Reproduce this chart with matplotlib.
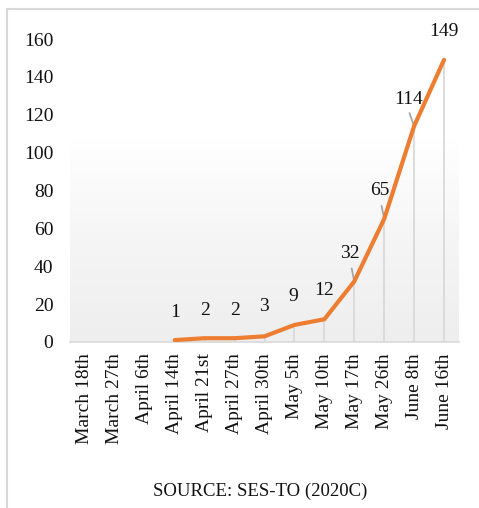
import numpy as np
import matplotlib.pyplot as plt
from matplotlib.patches import Rectangle
from matplotlib.colors import LinearSegmentedColormap

plt.rcParams['font.family'] = ['Liberation Serif', 'DejaVu Serif']

# dates and cumulative counts (first three dates have no value)
dates = ["March 18th", "March 27th", "April 6th", "April 14th", "April 21st",
         "April 27th", "April 30th", "May 5th", "May 10th", "May 17th",
         "May 26th", "June 8th", "June 16th"]
cases = [np.nan, np.nan, np.nan, 1, 2, 2, 3, 9, 12, 32, 65, 114, 149]
y_ticks = [0, 20, 40, 60, 80, 100, 120, 140, 160]
source = "SOURCE: SES-TO (2020C)"

# label offsets in pixels (dx, dy up) and which labels get a leader line
label_dx = [0, 0, 0, 0, 0, 0, -1, -1, 0, -4, -4, -6, 0]
label_dy = [28, 28, 28, 28, 28, 28, 30, 28, 29, 28, 28, 27, 28]
leader = [False] * 9 + [True, True, True, False]

fig = plt.figure(figsize=(4.79, 5.08), dpi=100)
fig.patches.append(Rectangle((7 / 479, -0.1), 1.2, 1 - 9 / 508 + 0.1,
                             transform=fig.transFigure, fill=False,
                             edgecolor='#d9d9d9', linewidth=1.5))

ax = fig.add_axes([70 / 479, 1 - 342 / 508, 389 / 479, 303 / 508])
x = np.arange(len(dates))
ax.set_xlim(-0.5, len(dates) - 0.5)
ax.set_ylim(0, 160)

# plot area gradient: white at top, light gray at bottom
grad = np.linspace(0, 1, 256).reshape(-1, 1)
cmap = LinearSegmentedColormap.from_list('bg', ['#eeeeee', '#f5f5f5', '#ffffff', '#ffffff'])
ax.imshow(grad, extent=[-0.5, len(dates) - 0.5, 0, 160], origin='lower',
          aspect='auto', cmap=cmap, zorder=0)

vals = np.array(cases, dtype=float)
for xi, v in zip(x, vals):
    if not np.isnan(v):
        ax.plot([xi, xi], [0, v], color='#d9d9d9', linewidth=1.3, zorder=1)

ax.plot(x, vals, color='#ED7D31', linewidth=3, solid_capstyle='round', zorder=3)

for xi, v, dx, dy, ld in zip(x, vals, label_dx, label_dy, leader):
    if np.isnan(v):
        continue
    ax.annotate(f"{int(v)}", (xi, v), xytext=(dx * 0.72, dy * 0.72),
                textcoords='offset points', ha='center', va='center',
                fontsize=14, color='#111111', zorder=4)
    if ld:
        ax.annotate("", (xi, v), xytext=(dx * 0.72 + 1, 13 * 0.72),
                    textcoords='offset points',
                    arrowprops=dict(arrowstyle='-', color='#a6a6a6', lw=1.3,
                                    shrinkA=0, shrinkB=0), zorder=2)

for s in ['top', 'right', 'left']:
    ax.spines[s].set_visible(False)
ax.spines['bottom'].set_color('#d9d9d9')
ax.spines['bottom'].set_linewidth(1.2)

ax.set_xticks(x)
ax.set_xticklabels(dates, rotation=90, fontsize=14, color='#111111')
ax.set_yticks(y_ticks)
ax.set_yticklabels([str(t) for t in y_ticks], fontsize=14, color='#111111')
ax.tick_params(axis='x', length=0, pad=8)
ax.tick_params(axis='y', length=0, pad=12)

fig.text(260 / 479, 1 - 491 / 508, source, ha='center', va='center',
         fontsize=13.5, color='#111111')

fig.savefig('out.png', dpi=100)
